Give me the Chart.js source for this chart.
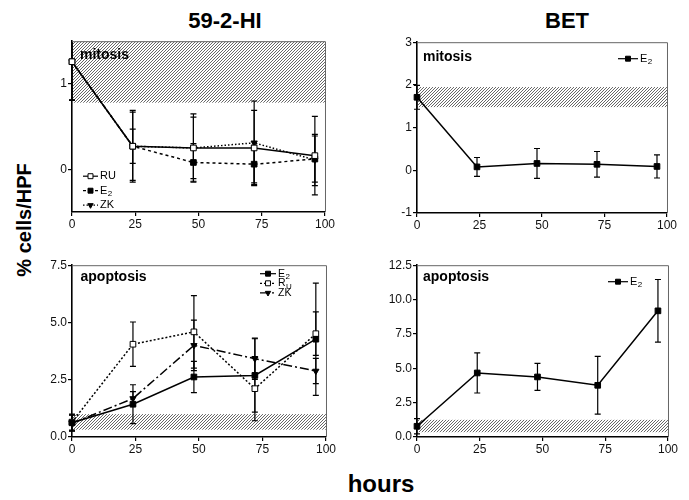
<!DOCTYPE html>
<html>
<head>
<meta charset="utf-8">
<script src="https://cdn.jsdelivr.net/npm/chart.js@4.4.0/dist/chart.umd.min.js"></script>
<style>
  body { margin: 0; background: #fff; width: 689px; height: 500px; position: relative; overflow: hidden;
         font-family: 'Liberation Sans', Arial, Helvetica, sans-serif; }
  canvas { position: absolute; }
  .txt { position: absolute; font-weight: bold; color: #000; white-space: nowrap; transform: translate(-50%, -50%); }
</style>
</head>
<body>
<div class="txt" style="left:225px;top:21px;font-size:22px">59-2-HI</div>
<div class="txt" style="left:567px;top:21px;font-size:22px">BET</div>
<div class="txt" style="left:24px;top:220px;font-size:20px;transform:translate(-50%,-50%) rotate(-90deg)">% cells/HPF</div>
<div class="txt" style="left:381px;top:484px;font-size:24px">hours</div>

<canvas id="hiMit" width="306" height="201" style="left:30px;top:33px"></canvas>
<canvas id="betMit" width="303" height="201" style="left:375px;top:34px"></canvas>
<canvas id="hiApo" width="307" height="202" style="left:30px;top:257px"></canvas>
<canvas id="betApo" width="304" height="202" style="left:375px;top:257px"></canvas>

<script>
  const FONT = "'Liberation Sans', Arial, Helvetica, sans-serif";

  const hours = [0, 24, 48, 72, 96];
  const xTicks = [0, 25, 50, 75, 100];

  // 59-2-HI, mitosis
  const hiMitRU = [1.26, 0.27, 0.25, 0.25, 0.16];
  const hiMitRUErr = [0.45, 0.40, 0.40, 0.44, 0.46];
  const hiMitE2 = [1.26, 0.27, 0.08, 0.06, 0.12];
  const hiMitE2Err = [0.45, 0.42, 0.22, 0.22, 0.27];
  const hiMitZK = [1.26, 0.27, 0.25, 0.31, 0.11];
  const hiMitZKErr = [0.45, 0.20, 0.36, 0.49, 0.30];
  const hiMitBand = [0.78, 1.5];
  const hiMitYTicks = [0, 1];

  // BET, mitosis
  const betMitE2 = [1.71, 0.08, 0.16, 0.14, 0.09];
  const betMitE2Err = [0.28, 0.22, 0.35, 0.30, 0.27];
  const betMitBand = [1.48, 1.95];
  const betMitYTicks = [-1, 0, 1, 2, 3];

  // 59-2-HI, apoptosis
  const hiApoE2 = [0.62, 1.43, 2.62, 2.69, 4.27];
  const hiApoE2Err = [0.35, 0.85, 0.68, 1.60, 2.45];
  const hiApoRU = [0.65, 4.05, 4.59, 2.11, 4.51];
  const hiApoRUErr = [0.35, 0.97, 1.58, 1.40, 0.95];
  const hiApoZK = [0.60, 1.68, 4.00, 3.42, 2.88];
  const hiApoZKErr = [0.35, 0.30, 1.10, 0.90, 0.55];
  const hiApoBand = [0.32, 1.0];
  const hiApoYTicks = [0, 2.5, 5, 7.5];

  // BET, apoptosis
  const betApoE2 = [0.78, 4.66, 4.37, 3.76, 9.18];
  const betApoE2Err = [0.55, 1.46, 0.98, 2.10, 2.28];
  const betApoBand = [0.35, 1.25];
  const betApoYTicks = [0, 2.5, 5, 7.5, 10, 12.5];

  const pts = (vals) => hours.map((h, i) => ({ x: h, y: vals[i] }));

  const hatchTile = (() => {
    const c = document.createElement('canvas');
    c.width = 3; c.height = 3;
    const g = c.getContext('2d');
    g.strokeStyle = '#404040';
    g.lineWidth = 0.8;
    g.beginPath();
    g.moveTo(0, 3); g.lineTo(3, 0);
    g.moveTo(-1, 1); g.lineTo(1, -1);
    g.moveTo(2, 4); g.lineTo(4, 2);
    g.stroke();
    return c;
  })();

  const series = (label, vals, errs, style) => Object.assign({
    label: label,
    data: pts(vals),
    errors: errs,
    borderColor: '#000',
    borderWidth: 1.5,
    pointBorderColor: '#000',
    pointBorderWidth: 1,
    tension: 0,
    clip: false,
  }, style);

  const openSq = { pointStyle: 'rect', pointRadius: 4, pointBackgroundColor: '#fff' };
  const fillSq = { pointStyle: 'rect', pointRadius: 4, pointBackgroundColor: '#000' };
  const triDown = { pointStyle: 'triangle', pointRadius: 3.6, pointRotation: 180, pointBackgroundColor: '#000' };

  function makePanel(id, opts) {
    const panelPlugin = {
      id: 'panel',
      beforeDatasetsDraw(chart) {
        const { ctx, chartArea: a, scales: { x, y } } = chart;
        // hatched reference band
        ctx.save();
        ctx.beginPath();
        ctx.rect(a.left, a.top, a.right - a.left, a.bottom - a.top);
        ctx.clip();
        const yt = y.getPixelForValue(opts.band[1]);
        const yb = y.getPixelForValue(opts.band[0]);
        ctx.fillStyle = ctx.createPattern(hatchTile, 'repeat');
        ctx.fillRect(a.left + 1, yt, a.right - a.left - 1, yb - yt);
        ctx.restore();

        // error bars
        ctx.save();
        ctx.beginPath();
        ctx.rect(a.left - 6, a.top, a.right - a.left + 12, a.bottom - a.top + 1);
        ctx.clip();
        ctx.strokeStyle = '#000';
        ctx.lineWidth = 1.2;
        chart.data.datasets.forEach(ds => {
          ds.data.forEach((p, i) => {
            const e = ds.errors[i];
            const px = x.getPixelForValue(p.x);
            const top = y.getPixelForValue(p.y + e);
            const bot = y.getPixelForValue(p.y - e);
            ctx.beginPath();
            ctx.moveTo(px, top); ctx.lineTo(px, bot);
            ctx.moveTo(px - 3, top); ctx.lineTo(px + 3, top);
            ctx.moveTo(px - 3, bot); ctx.lineTo(px + 3, bot);
            ctx.stroke();
          });
        });
        ctx.restore();
      },
      afterDraw(chart) {
        const { ctx, chartArea: a } = chart;
        ctx.save();
        // thin top/right frame
        ctx.strokeStyle = '#666';
        ctx.lineWidth = 1;
        ctx.beginPath();
        ctx.moveTo(a.left, a.top + 0.5); ctx.lineTo(a.right + 0.5, a.top + 0.5); ctx.lineTo(a.right + 0.5, a.bottom);
        ctx.stroke();

        // panel title inside plot
        ctx.fillStyle = '#000';
        ctx.font = 'bold 14px ' + FONT;
        ctx.textBaseline = 'middle';
        ctx.textAlign = 'left';
        ctx.fillText(opts.title, a.left + opts.titlePos[0], a.top + opts.titlePos[1]);

        // legend
        const lg = opts.legend;
        chart.data.datasets.forEach((ds, k) => {
          const x0 = a.left + lg.x;
          const y0 = a.top + lg.y + k * lg.gap;
          ctx.strokeStyle = '#000';
          ctx.lineWidth = 1.2;
          ctx.setLineDash(ds.borderDash || []);
          ctx.beginPath();
          ctx.moveTo(x0, y0); ctx.lineTo(x0 + lg.len, y0);
          ctx.stroke();
          ctx.setLineDash([]);
          ctx.fillStyle = ds.pointBackgroundColor;
          ctx.lineWidth = 1;
          Chart.helpers.drawPoint(ctx, {
            pointStyle: ds.pointStyle, radius: ds.pointRadius - 0.5,
            rotation: ds.pointRotation || 0, borderWidth: 1
          }, x0 + lg.len / 2, y0);
          ctx.fillStyle = '#000';
          ctx.font = lg.size + 'px ' + FONT;
          const tx = x0 + lg.len + 2;
          ctx.fillText(ds.label, tx, y0);
          if (ds.sub) {
            const w = ctx.measureText(ds.label).width;
            ctx.font = Math.round(lg.size * 0.72) + 'px ' + FONT;
            ctx.fillText(ds.sub, tx + w + 0.5, y0 + lg.size * 0.32);
          }
        });
        ctx.restore();
      }
    };

    const tickFont = { family: FONT, size: 12 };
    return new Chart(document.getElementById(id), {
      type: 'line',
      data: { datasets: opts.datasets },
      options: {
        responsive: false,
        animation: false,
        events: [],
        layout: { padding: { top: 8, right: 10, left: 0, bottom: 0 } },
        plugins: { legend: { display: false }, tooltip: { enabled: false } },
        scales: {
          x: {
            type: 'linear', min: 0, max: 100,
            afterBuildTicks: s => { s.ticks = xTicks.map(v => ({ value: v })); },
            afterFit: s => { s.height = 22; },
            grid: { drawOnChartArea: false, drawTicks: true, tickLength: 4, color: '#000', lineWidth: 1.2 },
            border: { display: true, color: '#000', width: 1.6 },
            ticks: { color: '#111', font: tickFont, padding: 1, maxRotation: 0 },
          },
          y: {
            type: 'linear', min: opts.yMin, max: opts.yMax,
            afterBuildTicks: s => { s.ticks = opts.yTicks.map(v => ({ value: v })); },
            afterFit: s => { s.width = 42; },
            grid: { drawOnChartArea: false, drawTicks: true, tickLength: 4, color: '#000', lineWidth: 1.2 },
            border: { display: true, color: '#000', width: 1.6 },
            ticks: { color: '#111', font: tickFont, padding: 1, callback: opts.fmt },
          },
        },
      },
      plugins: [panelPlugin],
    });
  }

  makePanel('hiMit', {
    yMin: -0.5, yMax: 1.5, yTicks: hiMitYTicks, fmt: v => String(v),
    band: hiMitBand, title: 'mitosis', titlePos: [8, 14],
    legend: { x: 11, y: 135, gap: 14.5, len: 15, size: 11 },
    datasets: [
      series('RU', hiMitRU, hiMitRUErr, Object.assign({}, openSq)),
      series('E', hiMitE2, hiMitE2Err, Object.assign({ sub: '2', borderDash: [3, 3] }, fillSq)),
      series('ZK', hiMitZK, hiMitZKErr, Object.assign({ borderDash: [1.5, 2] }, triDown)),
    ],
  });

  makePanel('betMit', {
    yMin: -1, yMax: 3, yTicks: betMitYTicks, fmt: v => String(v),
    band: betMitBand, title: 'mitosis', titlePos: [6, 15],
    legend: { x: 201, y: 16.5, gap: 14, len: 20, size: 11 },
    datasets: [
      series('E', betMitE2, betMitE2Err, Object.assign({ sub: '2' }, fillSq)),
    ],
  });

  makePanel('hiApo', {
    yMin: 0, yMax: 7.5, yTicks: hiApoYTicks, fmt: v => v.toFixed(1),
    band: hiApoBand, title: 'apoptosis', titlePos: [8.5, 11.5],
    legend: { x: 188, y: 8.5, gap: 9.6, len: 16, size: 10.5 },
    datasets: [
      series('E', hiApoE2, hiApoE2Err, Object.assign({ sub: '2' }, fillSq)),
      series('R', hiApoRU, hiApoRUErr, Object.assign({ sub: 'U', borderDash: [2, 2] }, openSq)),
      series('ZK', hiApoZK, hiApoZKErr, Object.assign({ borderDash: [9, 3, 2, 3] }, triDown)),
    ],
  });

  makePanel('betApo', {
    yMin: 0, yMax: 12.5, yTicks: betApoYTicks, fmt: v => v.toFixed(1),
    band: betApoBand, title: 'apoptosis', titlePos: [6, 12],
    legend: { x: 191, y: 16.5, gap: 14, len: 20, size: 11 },
    datasets: [
      series('E', betApoE2, betApoE2Err, Object.assign({ sub: '2' }, fillSq)),
    ],
  });
</script>
</body>
</html>
